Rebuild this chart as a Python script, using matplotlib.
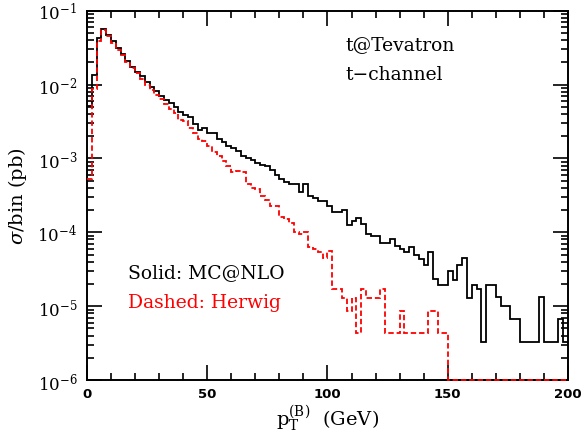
import matplotlib
matplotlib.use("Agg")
import matplotlib.pyplot as plt
import numpy as np
from matplotlib.ticker import MultipleLocator, LogLocator, NullFormatter

plt.rcParams["font.family"] = ["DejaVu Serif"]
plt.rcParams["mathtext.fontset"] = "dejavuserif"

# pT(B) bins, 2 GeV wide, 0..200 GeV
bin_edges = np.arange(0, 202, 2)

# MC@NLO (solid black), sigma per bin in pb
mcnlo = [
    5.19e-3, 1.35e-2, 4.23e-2, 5.65e-2, 4.73e-2, 3.93e-2, 3.10e-2, 2.59e-2, 2.07e-2, 1.75e-2,
    1.50e-2, 1.29e-2, 1.10e-2, 9.38e-3, 8.18e-3, 7.08e-3, 6.25e-3, 5.64e-3, 4.93e-3, 4.31e-3,
    3.92e-3, 3.61e-3, 2.93e-3, 2.43e-3, 2.56e-3, 2.19e-3, 2.19e-3, 1.84e-3, 1.66e-3, 1.49e-3,
    1.37e-3, 1.28e-3, 1.09e-3, 1.01e-3, 9.44e-4, 8.61e-4, 8.17e-4, 8.00e-4, 6.98e-4, 6.04e-4,
    5.28e-4, 4.79e-4, 4.52e-4, 4.52e-4, 3.48e-4, 4.52e-4, 3.08e-4, 2.89e-4, 2.69e-4, 2.69e-4,
    2.25e-4, 1.91e-4, 1.87e-4, 2.03e-4, 1.27e-4, 1.44e-4, 1.57e-4, 1.30e-4, 9.5e-5, 9.0e-5,
    9.0e-5, 7.2e-5, 7.2e-5, 8.0e-5, 6.6e-5, 6.0e-5, 5.4e-5, 6.3e-5, 4.9e-5, 4.3e-5,
    3.6e-5, 5.4e-5, 2.34e-5, 1.96e-5, 1.96e-5, 3.03e-5, 2.27e-5, 3.66e-5, 4.55e-5, 1.29e-5,
    1.96e-5, 1.71e-5, 3.3e-6, 1.96e-5, 1.96e-5, 1.32e-5, 9.9e-6, 9.9e-6, 6.6e-6, 6.6e-6,
    3.3e-6, 3.3e-6, 3.3e-6, 3.3e-6, 1.32e-5, 3.3e-6, 3.3e-6, 3.3e-6, 6.6e-6, 3.3e-6,
]

# Herwig (dashed red)
herwig = [
    5.2e-4, 8.8e-3, 3.93e-2, 5.5e-2, 4.59e-2, 3.66e-2, 2.94e-2, 2.49e-2, 2.00e-2, 1.66e-2,
    1.42e-2, 1.19e-2, 9.98e-3, 8.45e-3, 7.23e-3, 6.38e-3, 5.46e-3, 4.68e-3, 4.08e-3, 3.32e-3,
    3.18e-3, 2.56e-3, 2.19e-3, 1.84e-3, 1.74e-3, 1.49e-3, 1.21e-3, 1.09e-3, 9.33e-4, 7.83e-4,
    6.50e-4, 6.78e-4, 6.50e-4, 4.52e-4, 3.95e-4, 3.86e-4, 3.14e-4, 2.77e-4, 2.30e-4, 2.25e-4,
    1.60e-4, 1.49e-4, 1.34e-4, 1.00e-4, 9.5e-5, 1.00e-4, 6.3e-5, 6.0e-5, 5.4e-5, 4.46e-5,
    5.5e-5, 1.72e-5, 1.72e-5, 1.29e-5, 8.6e-6, 1.29e-5, 4.3e-6, 1.72e-5, 1.29e-5, 1.29e-5,
    1.29e-5, 1.72e-5, 4.3e-6, 4.3e-6, 4.3e-6, 8.6e-6, 4.3e-6, 4.3e-6, 4.3e-6, 4.3e-6,
    4.3e-6, 8.6e-6, 8.6e-6, 4.3e-6, 4.3e-6, 0, 0, 0, 0, 0,
    0, 0, 0, 0, 0, 0, 0, 0, 0, 0,
    0, 0, 0, 0, 0, 0, 0, 0, 0, 0,
]

y_floor = 1e-6


def plot_all():
    fig = plt.figure(figsize=(5.81, 4.35), dpi=100)
    ax = fig.add_axes([0.1497, 0.1241, 0.8279, 0.849])

    hw = np.where(np.array(herwig) > 0, herwig, y_floor)
    ax.stairs(mcnlo, bin_edges, baseline=None, color="black", linewidth=1.3, zorder=3)
    ax.stairs(hw, bin_edges, baseline=None, color="red", linewidth=1.3,
              linestyle=(0, (3, 1.6)), zorder=4, clip_on=False)

    ax.set_yscale("log")
    ax.set_xlim(0, 200)
    ax.set_ylim(1e-6, 1e-1)

    ax.xaxis.set_major_locator(MultipleLocator(50))
    ax.xaxis.set_minor_locator(MultipleLocator(10))
    ax.yaxis.set_major_locator(LogLocator(base=10, numticks=10))
    ax.yaxis.set_minor_locator(LogLocator(base=10, subs=np.arange(2, 10), numticks=20))
    ax.yaxis.set_minor_formatter(NullFormatter())

    ax.tick_params(which="both", direction="in", top=True, right=True, width=1.2)
    ax.tick_params(which="major", length=11)
    ax.tick_params(which="minor", length=5)
    ax.tick_params(axis="x", pad=5)
    ax.tick_params(axis="y", pad=7, labelsize=12)
    for lab in ax.get_xticklabels():
        lab.set_family("DejaVu Sans")
        lab.set_weight("bold")
        lab.set_size(9.5)
    for sp in ax.spines.values():
        sp.set_linewidth(1.4)

    ax.set_xlabel(r"$\mathrm{p_T^{(B)}}$  (GeV)", fontsize=14, labelpad=2)
    ax.set_ylabel(r"$\sigma$/bin (pb)", fontsize=14, labelpad=6)

    ax.text(0.538, 0.895, "t@Tevatron", transform=ax.transAxes, fontsize=13.5)
    ax.text(0.538, 0.816, "t\u2212channel", transform=ax.transAxes, fontsize=13.5)
    ax.text(0.085, 0.279, "Solid: MC@NLO", transform=ax.transAxes, fontsize=13.5)
    ax.text(0.085, 0.198, "Dashed: Herwig", transform=ax.transAxes, fontsize=13.5,
            color="red")

    plt.savefig("out.png", dpi=100)


if __name__ == "__main__":
    plot_all()
